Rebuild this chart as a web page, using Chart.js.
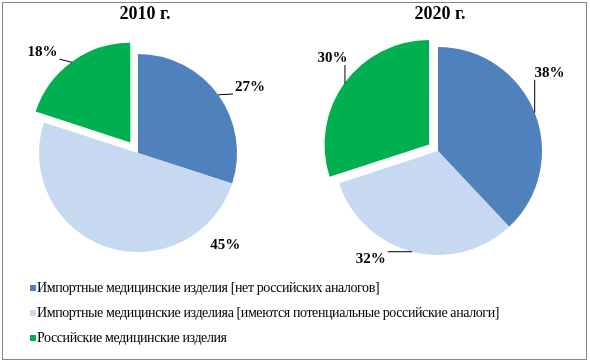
<!DOCTYPE html>
<html>
<head>
<meta charset="utf-8">
<script src="https://cdn.jsdelivr.net/npm/chart.js@4.4.1/dist/chart.umd.min.js"></script>
<style>
  html, body { margin: 0; padding: 0; background: #fff; }
  #wrap { position: relative; width: 590px; height: 364px; overflow: hidden; }
  #frame { position: absolute; left: 2px; top: 2px; width: 585px; height: 358px; box-sizing: border-box; border: 1px solid #868686; }
  #c2010 { position: absolute; left: 0; top: 0; }
  #c2020 { position: absolute; left: 290px; top: 0; }
  #legend { position: absolute; left: 30px; top: 275px; font: 14px "Liberation Serif", "Times New Roman", serif; letter-spacing: -0.4px; color: #000; }
  #legend .item { height: 25px; display: flex; align-items: center; white-space: nowrap; }
  #legend .box { width: 6px; height: 6px; margin-right: 1px; }
</style>
</head>
<body>
<div id="wrap">
  <div id="frame"></div>
  <canvas id="c2010" width="290" height="300"></canvas>
  <canvas id="c2020" width="300" height="300"></canvas>
  <div id="legend"></div>
</div>
<script>
const categories = [
    'Импортные медицинские изделия [нет российских аналогов]',
    'Импортные медицинские изделияа [имеются потенциальные российские аналоги]',
    'Российские медицинские изделия'
];
const values2010 = [27, 45, 18];
const values2020 = [38, 32, 30];
const years = ['2010 г.', '2020 г.'];
const colors = ['#4F81BD', '#C6D9F1', '#00B050'];

const SERIF = '"Liberation Serif", "Times New Roman", serif';

// heading above each pie and the percent labels with leader lines
const pieText = {
    id: 'pieText',
    afterDatasetsDraw(chart, args, opts) {
        const ctx = chart.ctx;
        const area = chart.chartArea;
        const meta = chart.getDatasetMeta(0);
        const data = chart.data.datasets[0].data;
        ctx.save();
        ctx.fillStyle = '#000';
        ctx.strokeStyle = '#000';
        ctx.lineWidth = 1;
        ctx.textAlign = 'center';
        ctx.textBaseline = 'middle';
        ctx.font = 'bold 18px ' + SERIF;
        ctx.fillText(opts.heading, (area.left + area.right) / 2 + opts.headingShift, opts.headingY);

        ctx.font = 'bold 15px ' + SERIF;
        meta.data.forEach((arc, i) => {
            const mid = (arc.startAngle + arc.endAngle) / 2;
            const shift = (arc.options.offset || 0) / 4;
            const cx = arc.x + Math.cos(mid) * shift;
            const cy = arc.y + Math.sin(mid) * shift;
            const a = mid + opts.turn[i] * Math.PI / 180;
            const d = arc.outerRadius + opts.gap[i];
            const lx = cx + Math.cos(a) * d;
            const ly = cy + Math.sin(a) * d;
            const text = data[i] + '%';
            const w = ctx.measureText(text).width;
            const h = 12;
            if (opts.leader[i]) {
                const sx = cx + Math.cos(mid) * arc.outerRadius;
                const sy = cy + Math.sin(mid) * arc.outerRadius;
                const ex = Math.min(Math.max(sx, lx - w / 2 - 2), lx + w / 2 + 2);
                const ey = Math.min(Math.max(sy, ly - h / 2 - 1), ly + h / 2 + 1);
                ctx.beginPath();
                ctx.moveTo(sx, sy);
                ctx.lineTo(ex, ey);
                ctx.stroke();
            }
            ctx.fillText(text, lx, ly);
        });
        ctx.restore();
    }
};

function makePie(id, values, radius, offsets, padding, text) {
    return new Chart(document.getElementById(id), {
        type: 'pie',
        data: {
            labels: categories,
            datasets: [{
                data: values,
                backgroundColor: colors,
                borderWidth: 0,
                offset: offsets
            }]
        },
        options: {
            responsive: false,
            animation: false,
            radius: radius,
            layout: { padding: padding },
            plugins: {
                legend: { display: false },
                title: { display: false },
                tooltip: { enabled: false },
                pieText: text
            },
            events: []
        },
        plugins: [pieText]
    });
}

const chart2010 = makePie('c2010', values2010, 99, [0, 0, 52],
    { left: 0, right: 14, top: 6, bottom: 0 },
    { heading: years[0], headingShift: 7, headingY: 14,
      turn: [5.5, -61.4, -8.2], gap: [31, 28, 27], leader: [true, false, true] });

const chart2020 = makePie('c2020', values2020, 104, [0, 0, 44],
    { left: 0, right: 4, top: 2, bottom: 0 },
    { heading: years[1], headingShift: 2, headingY: 14,
      turn: [-13.4, 17.6, 5.8], gap: [32, 23, 25.7], leader: [true, true, true] });

// shared legend under both pies
const legendEl = document.getElementById('legend');
chart2010.options.plugins.legend.labels.generateLabels(chart2010).forEach(item => {
    const row = document.createElement('div');
    row.className = 'item';
    const box = document.createElement('span');
    box.className = 'box';
    box.style.background = item.fillStyle;
    const label = document.createElement('span');
    label.textContent = item.text;
    row.appendChild(box);
    row.appendChild(label);
    legendEl.appendChild(row);
});
</script>
</body>
</html>
